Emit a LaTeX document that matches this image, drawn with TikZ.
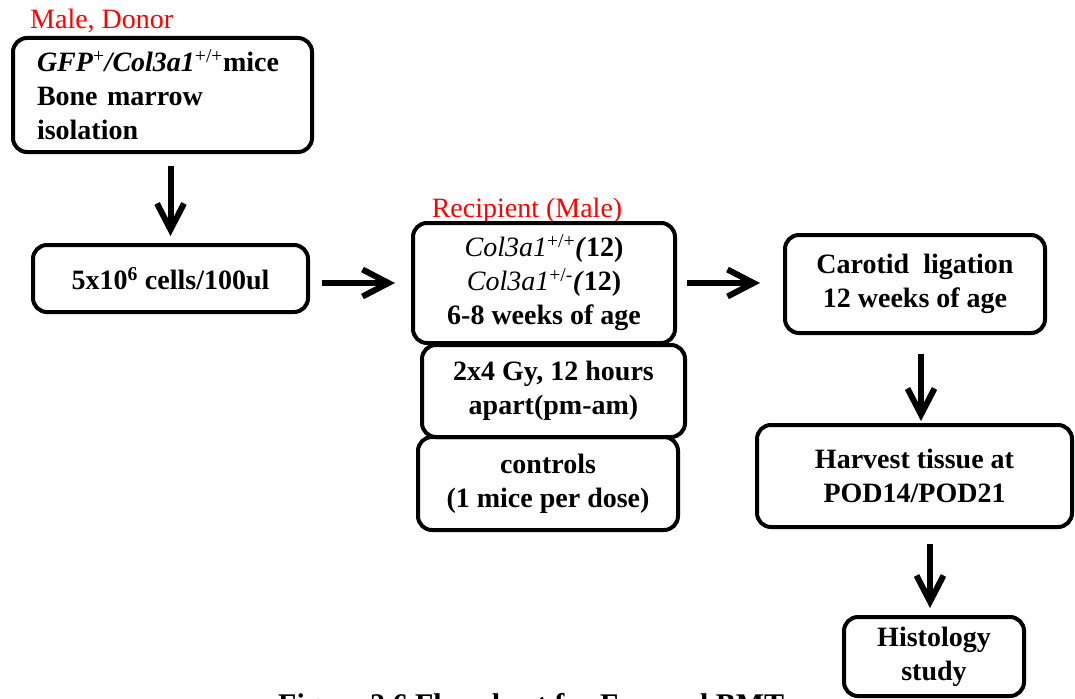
\documentclass[tikz,border=0pt]{standalone}
\usepackage{fontspec}
\setmainfont{Liberation Serif}
\usetikzlibrary{arrows.meta,calc}

\begin{document}
\begin{tikzpicture}[x=1pt,y=-1pt,
  box/.style={draw, line width=4pt, rounded corners=14pt, inner sep=0pt,
    align=center, font=\fontsize{28}{34}\selectfont\bfseries},
  redlbl/.style={text=red, font=\fontsize{28}{34}\selectfont, inner sep=0pt},
  flow/.style={line width=6pt, -{Straight Barb[length=26pt,width=27pt]}}
]
\useasboundingbox (0,0) rectangle (1075,698);
\clip (0,0) rectangle (1075,698);

% labels
\node[redlbl, anchor=base west] (lmale) at (30,29) {Male, Donor};
\node[redlbl, anchor=base] (lrec) at (527,217) {Recipient (Male)};

% boxes
\node[box, minimum width=299pt, minimum height=114pt, text width=251pt, align=left] (donor) at (162.5,95)
  {\textit{GFP}\textsuperscript{\mdseries +}\textit{/Col3a1}\textsuperscript{\mdseries +/+}mice\\Bone marrow\\isolation};
\node[box, minimum width=275pt, minimum height=67pt] (cells) at (170.5,278.5)
  {5x10\textsuperscript{6} cells/100ul};
\node[box, minimum width=262pt, minimum height=120pt] (rec) at (544,283)
  {\textit{\mdseries Col3a1}\textsuperscript{\mdseries +/+}\textit{(}12)\\
   \textit{\mdseries Col3a1}\textsuperscript{\mdseries +/-}\textit{(}12)\\
   6-8 weeks of age};
\node[box, minimum width=263pt, minimum height=92pt] (gy) at (553.5,391)
  {2x4 Gy, 12 hours\\apart(pm-am)};
\node[box, minimum width=260pt, minimum height=93pt] (ctrl) at (548,483.5)
  {controls\\(1 mice per dose)};
\node[box, minimum width=260pt, minimum height=98pt] (car) at (915,284)
  {Carotid\ \ ligation\\12 weeks of age};
\node[box, minimum width=315pt, minimum height=102pt] (harv) at (914.5,476)
  {Harvest tissue at\\POD14/POD21};
\node[box, minimum width=180pt, minimum height=79pt] (hist) at (934,656.5)
  {Histology\\study};

% caption (cut off at the bottom edge, as in the reference)
\node[anchor=base west, inner sep=0pt, font=\fontsize{30}{36}\selectfont\bfseries] (cap) at (278,714.5)
  {Figure 2.6 Flowchart for Femoral BMT};

% arrows
\draw[flow, shorten <=12pt, shorten >=7pt] (cells.north |- donor.south) -- (cells.north);
\draw[flow, shorten <=12pt, shorten >=16pt] (rec.west -| cells.east) -- (rec.west);
\draw[flow, shorten <=10pt, shorten >=23pt] (rec.east) -- (rec.east -| car.west);
\draw[flow, shorten <=19pt, shorten >=2pt] ([xshift=6pt]car.south) -- ([xshift=6pt]car.south |- harv.north);
\draw[flow, shorten <=15pt, shorten >=7pt] ([xshift=-4pt]hist.north |- harv.south) -- ([xshift=-4pt]hist.north);
\end{tikzpicture}
\end{document}
